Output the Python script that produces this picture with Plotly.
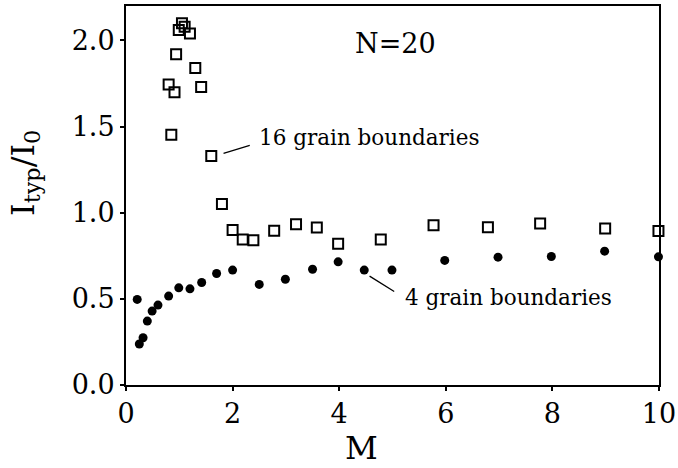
import plotly.graph_objects as go

# 16 grain boundaries (open squares)
m16 = [1.05, 0.99, 1.10, 1.20, 0.94, 1.30, 0.80, 0.91, 1.41, 0.85, 1.60,
       1.80, 2.00, 2.19, 2.39, 2.78, 3.19, 3.58, 3.98, 4.78, 5.77, 6.79, 7.77, 8.99, 9.99]
i16 = [2.10, 2.06, 2.08, 2.04, 1.92, 1.84, 1.745, 1.70, 1.73, 1.453, 1.33,
       1.05, 0.90, 0.845, 0.84, 0.895, 0.933, 0.914, 0.82, 0.845, 0.927, 0.916, 0.937, 0.908, 0.894]

# 4 grain boundaries (filled circles)
m4 = [0.21, 0.25, 0.32, 0.40, 0.49, 0.60, 0.80, 0.99, 1.20, 1.42, 1.70, 2.00,
      2.50, 2.99, 3.50, 3.98, 4.47, 4.99, 5.98, 6.98, 7.98, 8.98, 9.99]
i4 = [0.497, 0.238, 0.274, 0.371, 0.429, 0.464, 0.516, 0.564, 0.558, 0.595, 0.647, 0.667,
      0.584, 0.614, 0.672, 0.715, 0.667, 0.667, 0.723, 0.742, 0.746, 0.777, 0.744]

x_ticks = [0, 2, 4, 6, 8, 10]
y_ticks = [0.0, 0.5, 1.0, 1.5, 2.0]
y_tick_text = ["0.0", "0.5", "1.0", "1.5", "2.0"]

FONT = "DejaVu Serif"

fig = go.Figure()
fig.add_trace(go.Scatter(
    x=m16, y=i16, mode="markers",
    marker=dict(symbol="square-open", size=10, color="black", line=dict(width=2)),
    showlegend=False, cliponaxis=False))
fig.add_trace(go.Scatter(
    x=m4, y=i4, mode="markers",
    marker=dict(symbol="circle", size=9, color="black"),
    showlegend=False, cliponaxis=False))

fig.add_annotation(x=5.06, y=1.985, xref="x", yref="y", text="N=20", showarrow=False,
                   font=dict(family=FONT, size=27, color="black"))
fig.add_annotation(x=1.83, y=1.345, ax=2.35, ay=1.393, xref="x", yref="y", axref="x", ayref="y",
                   text="", showarrow=True, arrowhead=0, arrowwidth=1.3, arrowcolor="black")
fig.add_annotation(x=2.46, y=1.438, xref="x", yref="y", text="16 grain boundaries",
                   showarrow=False, xanchor="left",
                   font=dict(family=FONT, size=21.5, color="black"))
fig.add_annotation(x=4.57, y=0.632, ax=5.06, ay=0.537, xref="x", yref="y", axref="x", ayref="y",
                   text="", showarrow=True, arrowhead=0, arrowwidth=1.3, arrowcolor="black")
fig.add_annotation(x=5.2, y=0.51, xref="x", yref="y", text="4 grain boundaries",
                   showarrow=False, xanchor="left",
                   font=dict(family=FONT, size=21.5, color="black"))

# axis titles
fig.add_annotation(x=0.441, y=-0.221, xref="paper", yref="paper", text="M", showarrow=False,
                   font=dict(family=FONT, size=32, color="black"))
fig.add_annotation(x=-0.233, y=0.559, xref="paper", yref="paper",
                   text="I<sub>typ</sub>/I<sub>0</sub>", textangle=-90, showarrow=False,
                   font=dict(family=FONT, size=32, color="black"))

axis_common = dict(showgrid=False, zeroline=False, showline=True, linecolor="black",
                   linewidth=2, mirror=True, ticks="outside", ticklen=4, tickwidth=1.5,
                   tickcolor="black", ticklabeloverflow="allow", automargin=False,
                   tickfont=dict(family=FONT, size=27, color="black"))
fig.update_xaxes(range=[-0.0001, 10.0001], tickvals=x_ticks, ticktext=[str(v) for v in x_ticks],
                 **axis_common)
fig.update_yaxes(range=[-0.00002, 2.2], tickvals=y_ticks, ticktext=y_tick_text,
                 **axis_common)
fig.update_layout(width=678, height=468, margin=dict(l=126, r=19, t=6, b=83, autoexpand=False),
                  paper_bgcolor="white", plot_bgcolor="white")
fig.write_html("out.html")
